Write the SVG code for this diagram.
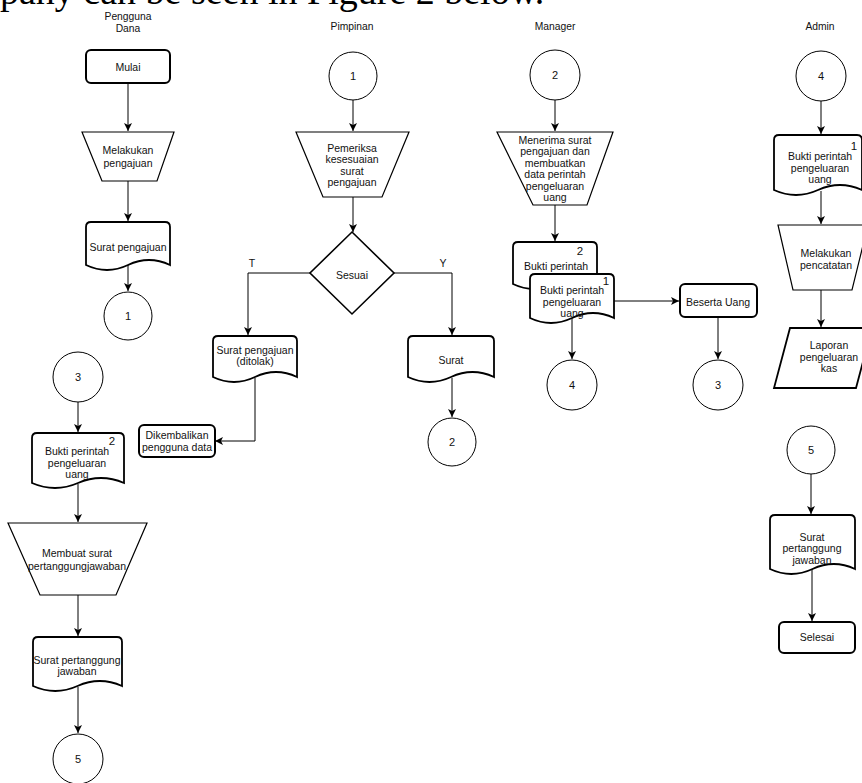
<svg xmlns="http://www.w3.org/2000/svg" width="862" height="783" viewBox="0 0 862 783">
<defs>
<marker id="arr" markerUnits="userSpaceOnUse" markerWidth="9" markerHeight="8" refX="8" refY="4" orient="auto">
<path d="M0,0 L8,4 L0,8 L2,4 Z" fill="#000"/>
</marker>
<style>
text{font-family:"Liberation Sans",Arial,sans-serif;font-size:10.5px;fill:#111;text-anchor:middle}
.hd{font-size:10.3px}
.num{font-size:11px}
.sup{font-size:11.5px}
.bg{font-family:"Liberation Serif","Times New Roman",serif;font-size:38px;text-anchor:start;fill:#000}
.term{fill:#fff;stroke:#000;stroke-width:2}
.doc{fill:#fff;stroke:#000;stroke-width:1.8}
.op{fill:#fff;stroke:#000;stroke-width:1.2}
.con{fill:#fff;stroke:#000;stroke-width:1}
#connectors path{fill:none;stroke:#000;stroke-width:1;marker-end:url(#arr)}
</style>
</defs>
<rect width="862" height="783" fill="#fff"/>
<text class="bg" x="0" y="4">pany can be seen in Figure 2 below.</text>

<g id="headers">
<text class="hd" x="128" y="20">Pengguna</text>
<text class="hd" x="128" y="32">Dana</text>
<text class="hd" x="352" y="30">Pimpinan</text>
<text class="hd" x="555" y="30">Manager</text>
<text class="hd" x="820" y="30">Admin</text>
</g>

<g id="connectors">
<path d="M128,83 V131"/>
<path d="M128,181 V221"/>
<path d="M128,265 V291"/>
<path d="M353,100 V131"/>
<path d="M353,197 V232"/>
<path d="M310,273 H248 V335"/>
<path d="M394,273 H452 V335"/>
<path d="M255,378 V441 H215"/>
<path d="M452,378 V417"/>
<path d="M555,100 V131"/>
<path d="M555,205 V241"/>
<path d="M614,301 H679"/>
<path d="M718,317 V359"/>
<path d="M572,318 V359"/>
<path d="M821,101 V134"/>
<path d="M821,191 V224"/>
<path d="M821,290 V327"/>
<path d="M811,474 V514"/>
<path d="M812,569 V621"/>
<path d="M78,402 V432"/>
<path d="M78,484 V522"/>
<path d="M78,595 V636"/>
<path d="M78,687 V733"/>
</g>

<g id="n-mulai"><rect class="term" x="86" y="50" width="84" height="33" rx="5"/><text x="128" y="70.5">Mulai</text></g>
<g id="n-melakukan-pengajuan"><polygon class="op" points="82,132 174,132 157,181 102,181"/><text x="128" y="153.5">Melakukan</text><text x="128" y="166.5">pengajuan</text></g>
<g id="n-surat-pengajuan"><path class="doc" d="M86,265 V227 Q86,222 91,222 H165 Q170,222 170,227 V265 Q149,255 128,265 Q107,275 86,265 Z"/><text x="128" y="250.5">Surat pengajuan</text></g>
<g id="n-c1a"><circle class="con" cx="128" cy="316" r="24"/><text class="num" x="128" y="320">1</text></g>

<g id="n-c1b"><circle class="con" cx="353" cy="76" r="24"/><text class="num" x="353" y="80">1</text></g>
<g id="n-pemeriksa"><polygon class="op" points="296,132 409,132 382,197 323,197"/><text x="352" y="151.5">Pemeriksa</text><text x="352" y="163">kesesuaian</text><text x="352" y="174.5">surat</text><text x="352" y="186">pengajuan</text></g>
<g id="n-sesuai"><polygon class="op" points="352,232 394,273 352,314 310,273" style="stroke-width:1.6"/><text x="352" y="278.5">Sesuai</text></g>
<g id="n-label-t"><text x="252" y="267">T</text></g>
<g id="n-label-y"><text x="443" y="267">Y</text></g>
<g id="n-ditolak"><path class="doc" d="M213,377 V341 Q213,336 218,336 H292 Q297,336 297,341 V377 Q276,367 255,377 Q234,387 213,377 Z"/><text x="255" y="353.5">Surat pengajuan</text><text x="255" y="365">(ditolak)</text></g>
<g id="n-surat"><path class="doc" d="M408,377 V341 Q408,336 413,336 H489 Q494,336 494,341 V377 Q472.5,367 451,377 Q429.5,387 408,377 Z"/><text x="451" y="363.5">Surat</text></g>
<g id="n-c2a"><circle class="con" cx="452" cy="442" r="24"/><text class="num" x="452" y="446">2</text></g>
<g id="n-dikembalikan"><rect class="term" x="139" y="425" width="76" height="32" rx="5"/><text x="177" y="438.5">Dikembalikan</text><text x="177" y="450.5">pengguna data</text></g>

<g id="n-c2b"><circle class="con" cx="555" cy="75" r="25"/><text class="num" x="555" y="79">2</text></g>
<g id="n-menerima"><polygon class="op" points="497,132 613,132 587,205 533,205"/><text x="555" y="143.5">Menerima surat</text><text x="555" y="155">pengajuan dan</text><text x="555" y="166.5">membuatkan</text><text x="555" y="178">data perintah</text><text x="555" y="189.5">pengeluaran</text><text x="555" y="201">uang</text></g>
<g id="n-bukti-2"><path class="doc" d="M513,284 V247 Q513,242 518,242 H592 Q597,242 597,247 V284 Q576,274 555,284 Q534,294 513,284 Z"/><text x="556" y="269.5">Bukti perintah</text><text class="sup" x="580" y="255">2</text></g>
<g id="n-bukti-1"><path class="doc" d="M530,318 V279 Q530,274 535,274 H609 Q614,274 614,279 V318 Q593,308 572,318 Q551,328 530,318 Z"/><text x="572" y="293.5">Bukti perintah</text><text x="572" y="305.5">pengeluaran</text><text x="572" y="317">uang</text><text class="sup" x="606" y="285">1</text></g>
<g id="n-beserta"><rect class="term" x="680" y="284" width="77" height="33" rx="5"/><text x="718" y="305.5">Beserta Uang</text></g>
<g id="n-c4a"><circle class="con" cx="572" cy="385" r="25"/><text class="num" x="572" y="389">4</text></g>
<g id="n-c3a"><circle class="con" cx="718" cy="385" r="25"/><text class="num" x="718" y="389">3</text></g>

<g id="n-c4b"><circle class="con" cx="821" cy="76" r="25"/><text class="num" x="821" y="80">4</text></g>
<g id="n-bukti-admin"><path class="doc" d="M774,190 V140 Q774,135 779,135 H857 Q862,135 862,140 V190 Q840,180 818,190 Q796,200 774,190 Z"/><text x="820" y="159.5">Bukti perintah</text><text x="820" y="171.5">pengeluaran</text><text x="820" y="183">uang</text><text class="sup" x="854" y="150">1</text></g>
<g id="n-pencatatan"><polygon class="op" points="778,225 868,225 852,290 793,290"/><text x="826" y="256.5">Melakukan</text><text x="826" y="268.5">pencatatan</text></g>
<g id="n-laporan"><polygon class="doc" points="790,328 872,328 856,388 774,388"/><text x="829" y="348.5">Laporan</text><text x="829" y="360.5">pengeluaran</text><text x="829" y="372">kas</text></g>
<g id="n-c5b"><circle class="con" cx="811" cy="450" r="24"/><text class="num" x="811" y="454">5</text></g>
<g id="n-spj-admin"><path class="doc" d="M770,569 V520 Q770,515 775,515 H850 Q855,515 855,520 V569 Q833.75,559 812.5,569 Q791.25,579 770,569 Z"/><text x="812" y="540.5">Surat</text><text x="812" y="552">pertanggung</text><text x="812" y="563.5">jawaban</text></g>
<g id="n-selesai"><rect class="term" x="779" y="622" width="76" height="31" rx="5"/><text x="817" y="640.5">Selesai</text></g>

<g id="n-c3b"><circle class="con" cx="78" cy="377" r="25"/><text class="num" x="78" y="381">3</text></g>
<g id="n-bukti-pd"><path class="doc" d="M32,483 V438 Q32,433 37,433 H119 Q124,433 124,438 V483 Q101,473 78,483 Q55,493 32,483 Z"/><text x="77" y="454.5">Bukti perintah</text><text x="77" y="466.5">pengeluaran</text><text x="77" y="478">uang</text><text class="sup" x="112" y="445">2</text></g>
<g id="n-membuat"><polygon class="op" points="8,523 147,523 116,595 40,595"/><text x="77" y="556.5">Membuat surat</text><text x="77" y="569.5">pertanggungjawaban</text></g>
<g id="n-spj-pd"><path class="doc" d="M33,686 V642 Q33,637 38,637 H117 Q122,637 122,642 V686 Q99.75,676 77.5,686 Q55.25,696 33,686 Z"/><text x="77" y="663.5">Surat pertanggung</text><text x="77" y="674.5">jawaban</text></g>
<g id="n-c5a"><circle class="con" cx="78" cy="759" r="25"/><text class="num" x="78" y="763">5</text></g>
</svg>
